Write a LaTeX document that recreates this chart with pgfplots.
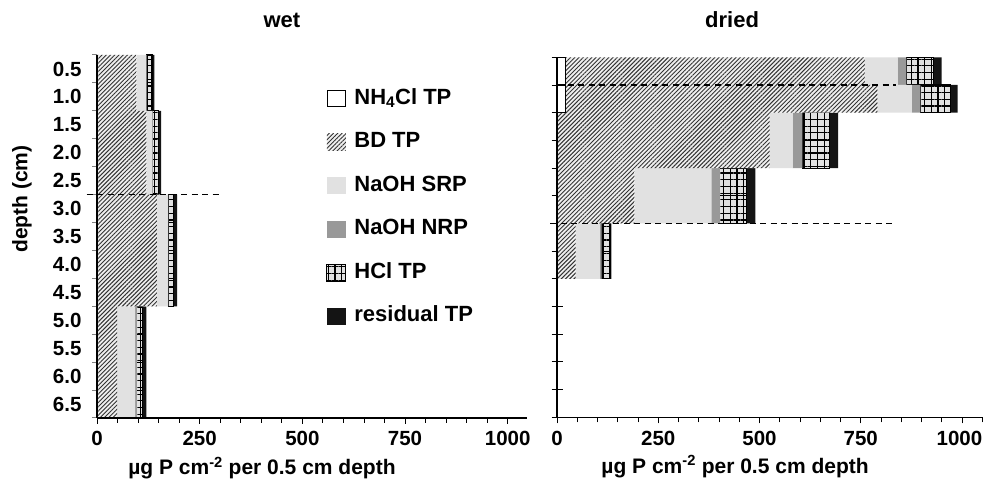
\documentclass[border=0pt]{standalone}
\usepackage{fontspec}
\setmainfont{Liberation Sans}
\usepackage{pgfplots}
\usepackage{pgfplotstable}
\pgfplotsset{compat=1.18}
\usetikzlibrary{patterns.meta}

\definecolor{srpcol}{HTML}{E1E1E1}
\definecolor{nrpcol}{HTML}{999999}
\definecolor{rescol}{HTML}{141414}
\definecolor{bdbg}{HTML}{EFEFEF}

\newcommand\tickfont{\fontsize{20.5bp}{24bp}\selectfont\bfseries}
\newcommand\labfont{\fontsize{21bp}{25bp}\selectfont\bfseries}
\newcommand\titfont{\fontsize{22bp}{26bp}\selectfont\bfseries}
\newcommand\legfont{\fontsize{22bp}{26bp}\selectfont\bfseries}

% depth-row centre (cm), then P pools (ug P cm-2 per 0.5 cm)
\pgfplotstableread{
y    nh  bd   srp nrp hcl res
0.25 0   96   24  1   13  6
0.75 0   96   24  1   13  6
1.25 0   120  14  2   14  6
1.75 0   120  14  2   14  6
2.25 0   120  14  2   14  6
2.75 0   146  26  2   13  8
3.25 0   146  26  2   13  8
3.75 0   146  26  2   13  8
4.25 0   146  26  2   13  8
4.75 0   49   44  4   14  9
5.25 0   49   44  4   14  9
5.75 0   49   44  4   14  9
6.25 0   49   44  4   14  9
}\wetdata

\pgfplotstableread{
y    nh  bd   srp nrp hcl res
0.25 21  739  81  22  66  21
0.75 21  770  85  21  74  18
1.25 0   525  57  24  66  22
1.75 0   525  57  24  66  22
2.25 0   191  190 21  67  21
2.75 0   191  190 21  67  21
3.25 0   46   60  4   21  3
3.75 0   46   60  4   21  3
}\drieddata

\pgfplotsset{
  nhsty/.style={fill=white, draw=black, line width=1.2bp},
  bdsty/.style={fill=bdbg, draw=none,
    postaction={pattern={Lines[angle=45,distance=3bp,line width=0.95bp]}, pattern color=black!80}},
  srpsty/.style={fill=srpcol, draw=none},
  nrpsty/.style={fill=nrpcol, draw=none},
  hclsty/.style={fill=srpcol, draw=black, line width=1.1bp,
    postaction={pattern={Hatch[distance=6.7bp,line width=1.2bp]}, pattern color=black}},
  ressty/.style={fill=rescol, draw=none},
  panel/.style={
    scale only axis, anchor=south west,
    ymin=0, ymax=6.5, y dir=reverse, xmin=0,
    clip=false,
  },
  barpanel/.style={
    panel, xbar stacked, bar width=0.5, axis on top,
    axis x line*=bottom, axis y line*=left,
    axis line style={line width=1.3bp, black},
    xtick={0,250,500,750,1000},
    minor xtick={0,50,...,1050},
    tick align=outside, major tick length=6bp, minor tick length=5bp,
    every tick/.append style={black, line width=0.9bp},
    ticklabel style={font=\tickfont},
    xticklabel style={yshift=-4bp},
    xlabel style={font=\labfont},
    ylabel style={font=\labfont},
    title style={font=\titfont},
  },
  dashline/.style={black, line width=1.3bp, dash pattern=on 6bp off 4.5bp},
}

\begin{document}
\begin{tikzpicture}[x=1bp,y=1bp]
\useasboundingbox (0,0) rectangle (983,488);

% ---------------- wet ----------------
\begin{axis}[barpanel,
  at={(97bp,70bp)}, width=430bp, height=363bp, xmax=1047,
  xticklabels={0,250,500,750,1000},
  ytick={0.25,0.75,...,6.25},
  yticklabels={0.5,1.0,1.5,2.0,2.5,3.0,3.5,4.0,4.5,5.0,5.5,6.0,6.5},
  minor ytick={0,0.5,...,6.5},
  every major y tick/.append style={draw=none},
  every minor y tick/.append style={gray, line width=1bp},
  yticklabel style={xshift=-6bp},
  title={wet},
  title style={at={(axis description cs:0.430,1)}, anchor=base, yshift=22bp},
  xlabel={µg P cm\textsuperscript{-2} per 0.5 cm depth},
  xlabel style={at={(axis description cs:0.3837,-0.1377)}, anchor=center},
  ylabel={depth (cm)},
  ylabel style={at={(axis description cs:-0.1744,0.603)}, anchor=center},
  legend style={at={(axis description cs:0.5326,0.909)}, anchor=north west,
    draw=none, fill=none, font=\legfont, inner sep=0pt, row sep=22.5bp,
    cells={anchor=west},
    nodes={inner sep=0pt, text height=16bp, text depth=5bp}},
  legend image code/.code={\path[#1,draw=none] (0bp,-8.5bp) rectangle (19bp,8.5bp);
                           \path (27bp,0bp);},
]
\addplot[nhsty, legend image code/.code={
    \draw[fill=white, draw=black, line width=1.2bp] (0.6bp,-8bp) rectangle (18.4bp,8bp);
    \path (27bp,0bp);}]
                 table[x=nh,  y=y] {\wetdata};
\addplot[bdsty]  table[x=bd,  y=y] {\wetdata};
\addplot[srpsty] table[x=srp, y=y] {\wetdata};
\addplot[nrpsty] table[x=nrp, y=y] {\wetdata};
\addplot[hclsty] table[x=hcl, y=y] {\wetdata};
\addplot[ressty] table[x=res, y=y] {\wetdata};
\legend{NH\textsubscript{4}Cl TP, BD TP, NaOH SRP, NaOH NRP, HCl TP, residual TP}
\end{axis}
\begin{axis}[panel, hide axis,
  at={(97bp,70bp)}, width=430bp, height=363bp, xmax=1047]
\addplot[dashline] coordinates {(-25,2.5) (305,2.5)};
\end{axis}

% ---------------- dried ----------------
% y ticks (behind the bars)
\begin{axis}[panel,
  at={(557bp,70.7bp)}, width=426bp, height=360bp, xmax=1052,
  axis x line=none, axis y line*=left,
  axis line style={line width=1.3bp, black},
  ytick={0,0.5,...,6.5}, yticklabels={},
  tick align=center, major tick length=11bp,
  every tick/.append style={black, line width=0.9bp}]
\addplot[draw=none] coordinates {(0,0)};
\end{axis}
\begin{axis}[barpanel,
  at={(557bp,70.7bp)}, width=426bp, height=360bp, xmax=1052,
  xticklabels={0,250,500,750,\hspace*{-5bp}1000},
  ytick=\empty,
  title={dried},
  title style={at={(axis description cs:0.411,1)}, anchor=base, yshift=23.5bp},
  xlabel={µg P cm\textsuperscript{-2} per 0.5 cm depth},
  xlabel style={at={(axis description cs:0.418,-0.1369)}, anchor=center},
]
\addplot[nhsty]  table[x=nh,  y=y] {\drieddata};
\addplot[bdsty]  table[x=bd,  y=y] {\drieddata};
\addplot[srpsty] table[x=srp, y=y] {\drieddata};
\addplot[nrpsty] table[x=nrp, y=y] {\drieddata};
\addplot[hclsty] table[x=hcl, y=y] {\drieddata};
\addplot[ressty] table[x=res, y=y] {\drieddata};
\end{axis}
\begin{axis}[panel, hide axis,
  at={(557bp,70.7bp)}, width=426bp, height=360bp, xmax=1052]
\addplot[dashline] coordinates {(0,0.5) (836,0.5)};
\addplot[dashline] coordinates {(-17,3) (834,3)};
\end{axis}
\end{tikzpicture}
\end{document}
